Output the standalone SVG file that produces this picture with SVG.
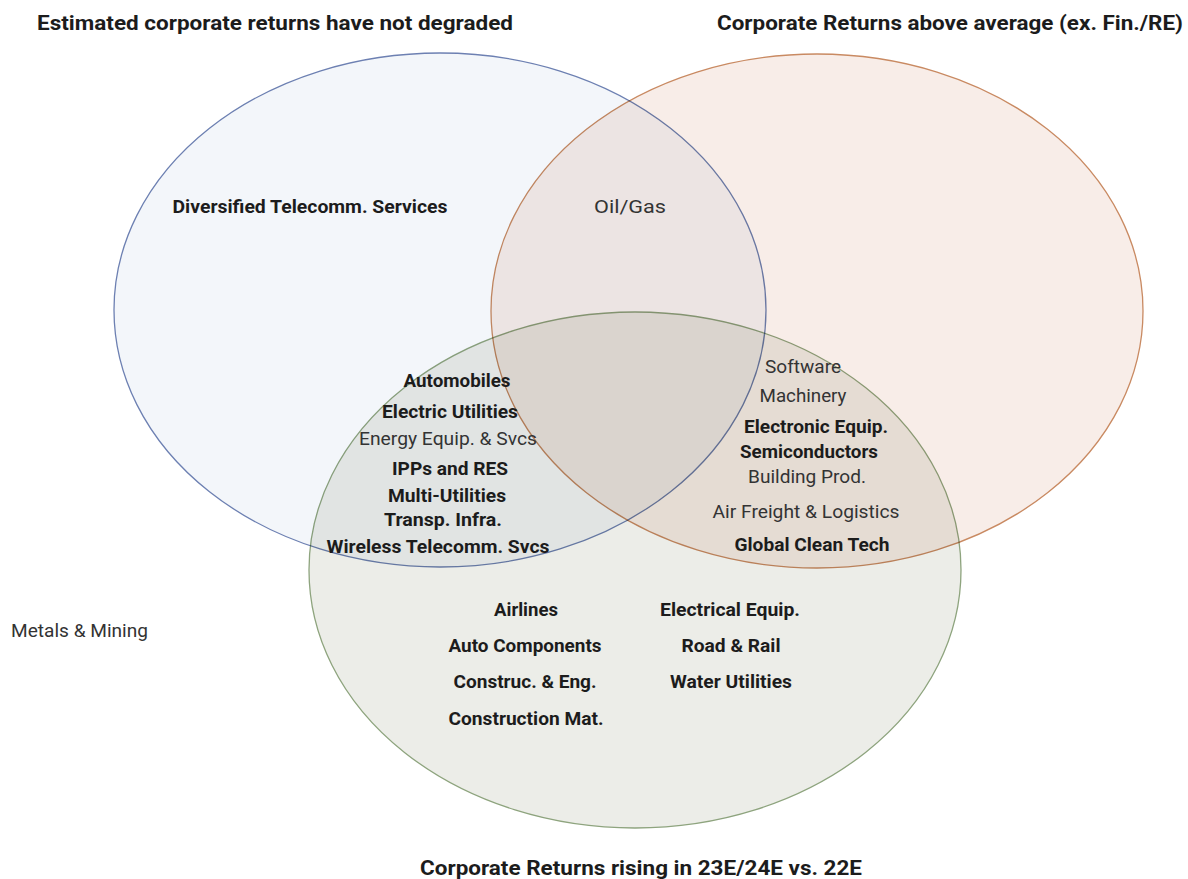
<svg xmlns="http://www.w3.org/2000/svg" width="1188" height="879" viewBox="0 0 1188 879">
<style>
text{font-family:Roboto,"Liberation Sans",sans-serif;fill:#1c1c1c;text-anchor:middle}
.t{font-size:21px;font-weight:700}
.b{font-size:18px;font-weight:700}
.r{font-size:18px;font-weight:400;fill:#333}
.set{stroke-width:1.3;mix-blend-mode:multiply}
</style>
<rect width="1188" height="879" fill="#fff"/>
<g id="sets" style="isolation:isolate">
<rect width="1188" height="879" fill="#fff"/>
<g id="set-blue"><ellipse class="set" cx="440" cy="310" rx="326" ry="257" fill="#f3f6fa" stroke="#6d80b2"/></g>
<g id="set-orange"><ellipse class="set" cx="817" cy="311" rx="326" ry="257" fill="#f8ede8" stroke="#c98a62"/></g>
<g id="set-green"><ellipse class="set" cx="635" cy="570" rx="326" ry="258" fill="#ecede8" stroke="#8ea47e"/></g>
</g>
<g id="connectors"/>
<g id="titles">
<text id="title-blue" class="t" x="275" y="30" textLength="476" lengthAdjust="spacingAndGlyphs">Estimated corporate returns have not degraded</text>
<text id="title-orange" class="t" x="950" y="30" textLength="466" lengthAdjust="spacingAndGlyphs">Corporate Returns above average (ex. Fin./RE)</text>
<text id="title-green" class="t" x="641" y="875" textLength="442" lengthAdjust="spacingAndGlyphs">Corporate Returns rising in 23E/24E vs. 22E</text>
</g>
<g id="blue-only"><text class="b" x="310" y="213" textLength="275" lengthAdjust="spacingAndGlyphs">Diversified Telecomm. Services</text></g>
<g id="blue-orange"><text class="r" x="630" y="213" textLength="72" lengthAdjust="spacingAndGlyphs">Oil/Gas</text></g>
<g id="blue-green">
<text class="b" x="457" y="387" textLength="107" lengthAdjust="spacingAndGlyphs">Automobiles</text>
<text class="b" x="450" y="418" textLength="136" lengthAdjust="spacingAndGlyphs">Electric Utilities</text>
<text class="r" x="448" y="445" textLength="178" lengthAdjust="spacingAndGlyphs">Energy Equip. &amp; Svcs</text>
<text class="b" x="450" y="475" textLength="116" lengthAdjust="spacingAndGlyphs">IPPs and RES</text>
<text class="b" x="447" y="502" textLength="118" lengthAdjust="spacingAndGlyphs">Multi-Utilities</text>
<text class="b" x="443" y="526" textLength="118" lengthAdjust="spacingAndGlyphs">Transp. Infra.</text>
<text class="b" x="438" y="553" textLength="223" lengthAdjust="spacingAndGlyphs">Wireless Telecomm. Svcs</text>
</g>
<g id="orange-green">
<text class="r" x="803" y="373" textLength="76" lengthAdjust="spacingAndGlyphs">Software</text>
<text class="r" x="803" y="402" textLength="87" lengthAdjust="spacingAndGlyphs">Machinery</text>
<text class="b" x="816" y="433" textLength="144" lengthAdjust="spacingAndGlyphs">Electronic Equip.</text>
<text class="b" x="809" y="458" textLength="138" lengthAdjust="spacingAndGlyphs">Semiconductors</text>
<text class="r" x="807" y="483" textLength="118" lengthAdjust="spacingAndGlyphs">Building Prod.</text>
<text class="r" x="806" y="518" textLength="187" lengthAdjust="spacingAndGlyphs">Air Freight &amp; Logistics</text>
<text class="b" x="812" y="551" textLength="155" lengthAdjust="spacingAndGlyphs">Global Clean Tech</text>
</g>
<g id="green-only">
<text class="b" x="526" y="616" textLength="64" lengthAdjust="spacingAndGlyphs">Airlines</text>
<text class="b" x="525" y="652" textLength="153" lengthAdjust="spacingAndGlyphs">Auto Components</text>
<text class="b" x="525" y="688" textLength="143" lengthAdjust="spacingAndGlyphs">Construc. &amp; Eng.</text>
<text class="b" x="526" y="725" textLength="155" lengthAdjust="spacingAndGlyphs">Construction Mat.</text>
<text class="b" x="730" y="616" textLength="140" lengthAdjust="spacingAndGlyphs">Electrical Equip.</text>
<text class="b" x="731" y="652" textLength="99" lengthAdjust="spacingAndGlyphs">Road &amp; Rail</text>
<text class="b" x="731" y="688" textLength="122" lengthAdjust="spacingAndGlyphs">Water Utilities</text>
</g>
<g id="outside"><text class="r" x="79.5" y="637" textLength="137" lengthAdjust="spacingAndGlyphs">Metals &amp; Mining</text></g>
</svg>
